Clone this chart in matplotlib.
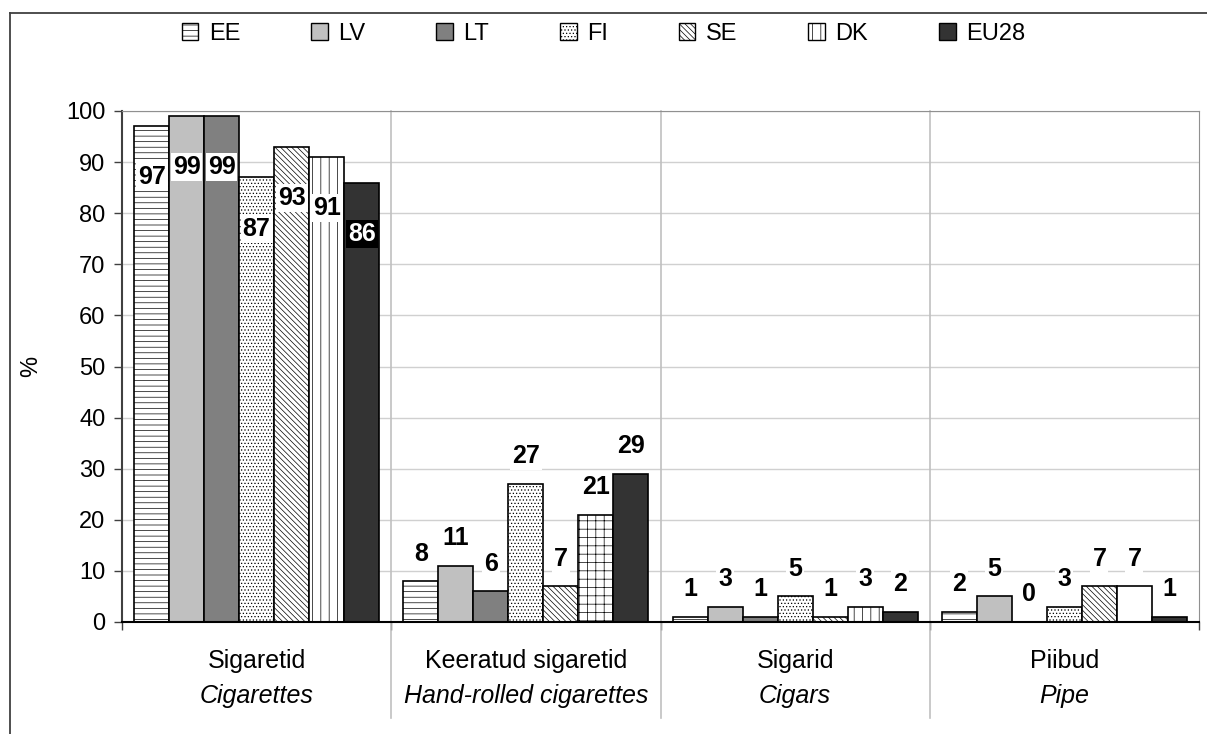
import matplotlib
matplotlib.use('Agg')
import matplotlib.pyplot as plt
import numpy as np
from matplotlib.patches import Rectangle
from matplotlib.lines import Line2D

plt.rcParams['font.family'] = ['Liberation Sans', 'DejaVu Sans']
plt.rcParams['hatch.linewidth'] = 0.5

# 数据
groups_et = ['Sigaretid', 'Keeratud sigaretid', 'Sigarid', 'Piibud']
groups_en = ['Cigarettes', 'Hand-rolled cigarettes', 'Cigars', 'Pipe']
countries = ['EE', 'LV', 'LT', 'FI', 'SE', 'DK', 'EU28']
ee = [97, 8, 1, 2]
lv = [99, 11, 3, 5]
lt = [99, 6, 1, 0]
fi = [87, 27, 5, 3]
se = [93, 7, 1, 7]
dk = [91, 21, 3, 7]
eu28 = [86, 29, 2, 1]
series = [ee, lv, lt, fi, se, dk, eu28]

# 样式
colors = ['white', '#c0c0c0', '#808080', 'white', 'white', 'white', '#333333']
hatches = ['---', '', '', '.....', '\\\\\\\\\\\\', '||', '']

fig = plt.figure(figsize=(12.07, 7.34), dpi=100)
ax = fig.add_axes([122 / 1207, 1 - 622 / 734, (1199 - 122) / 1207, 511 / 734])

x = np.arange(len(groups_et))
w = 0.13
for i, vals in enumerate(series):
    pos = x + (i - 3) * w
    for j, v in enumerate(vals):
        h = hatches[i]
        # DK 图案在各组不同
        if i == 5 and j == 1:
            h = '++'
        if i == 5 and j == 3:
            h = ''
        ax.bar(pos[j], v, w, color=colors[i], edgecolor='black',
               linewidth=1.2, hatch=h, zorder=3)
        if j == 0:
            # 柱内标签
            if i == 6:
                ax.text(pos[j], v - 10, str(v), ha='center', va='center',
                        fontsize=18, fontweight='bold', color='white', zorder=5,
                        bbox=dict(facecolor='black', edgecolor='none', pad=1.5))
            else:
                ax.text(pos[j], v - 10, str(v), ha='center', va='center',
                        fontsize=18, fontweight='bold', zorder=5,
                        bbox=dict(facecolor='white', edgecolor='none', pad=1.5))
        else:
            ax.text(pos[j], v + 5.4, str(v), ha='center', va='center',
                    fontsize=18, fontweight='bold', zorder=5,
                    bbox=dict(facecolor='white', edgecolor='none', pad=1.5))

ax.set_xlim(-0.5, 3.5)
ax.set_ylim(0, 100)
ax.set_yticks(np.arange(0, 101, 10))
ax.tick_params(axis='y', labelsize=17, length=6, width=1, color='#404040', pad=6)
ax.set_xticks([-0.5, 0.5, 1.5, 2.5, 3.5])
ax.set_xticklabels([])
ax.tick_params(axis='x', length=6, width=1, color='#404040')
ax.yaxis.grid(True, color='#d0d0d0', linewidth=1, zorder=0)
ax.set_axisbelow(True)
ax.set_ylabel('%', fontsize=17, labelpad=17)

ax.spines['left'].set_color('#404040')
ax.spines['left'].set_linewidth(1.5)
ax.spines['bottom'].set_color('black')
ax.spines['bottom'].set_linewidth(1.5)
ax.spines['bottom'].set_zorder(4)
ax.spines['top'].set_color('#909090')
ax.spines['right'].set_color('#909090')

# 组间分隔线
for b in [0.5, 1.5, 2.5]:
    ax.add_line(Line2D([b, b], [-0.188, 1], color='#c0c0c0', linewidth=1.2,
                       transform=ax.get_xaxis_transform(), clip_on=False, zorder=1))

# 分类标签
for j in range(len(groups_et)):
    ax.text(x[j], -0.076, groups_et[j], transform=ax.get_xaxis_transform(),
            ha='center', va='center', fontsize=18)
    ax.text(x[j], -0.145, groups_en[j], transform=ax.get_xaxis_transform(),
            ha='center', va='center', fontsize=18, style='italic')

# 图例
handles = [Rectangle((0, 0), 1, 1, facecolor=colors[i], edgecolor='black',
                     linewidth=1, hatch=hatches[i]) for i in range(len(countries))]
fig.legend(handles, countries, loc='center', bbox_to_anchor=(0.5, 1 - 34 / 734),
           ncol=7, frameon=False, fontsize=17, handlelength=0.7, handleheight=0.7,
           handletextpad=0.45, columnspacing=3.0)

# 外框
fig.add_artist(Line2D([10 / 1207, 10 / 1207], [0, 1 - 12.7 / 734], color='#404040',
                      linewidth=1.3, transform=fig.transFigure))
fig.add_artist(Line2D([10 / 1207, 1], [1 - 12.7 / 734, 1 - 12.7 / 734], color='#404040',
                      linewidth=1.3, transform=fig.transFigure))

fig.savefig('out.png', dpi=100)
